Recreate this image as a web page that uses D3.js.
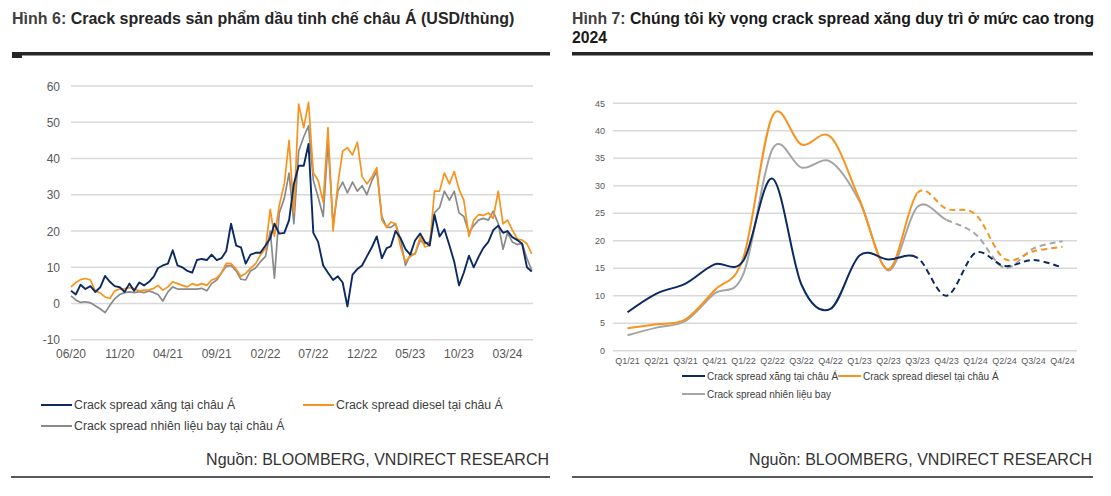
<!DOCTYPE html>
<html><head><meta charset="utf-8">
<script src="https://cdn.jsdelivr.net/npm/d3@7"></script>
<style>body{margin:0;background:#fff;} svg{display:block;font-family:"Liberation Sans",Arial,sans-serif;}</style>
</head><body><svg id="c" width="1111" height="496"></svg>
<script>
// ---------- Left chart data (semi-monthly readings) ----------
const dates = [
"2020-06-01","2020-06-16","2020-07-01","2020-07-16","2020-08-01","2020-08-16","2020-09-01","2020-09-16","2020-10-01","2020-10-16","2020-11-01","2020-11-16","2020-12-01","2020-12-16",
"2021-01-01","2021-01-16","2021-02-01","2021-02-16","2021-03-01","2021-03-16","2021-04-01","2021-04-16","2021-05-01","2021-05-16","2021-06-01","2021-06-16","2021-07-01","2021-07-16","2021-08-01","2021-08-16","2021-09-01","2021-09-16","2021-10-01","2021-10-16","2021-11-01","2021-11-16","2021-12-01","2021-12-16",
"2022-01-01","2022-01-16","2022-02-01","2022-02-16","2022-03-01","2022-03-16","2022-04-01","2022-04-16","2022-05-01","2022-05-16","2022-06-01","2022-06-16","2022-07-01","2022-07-16","2022-08-01","2022-08-16","2022-09-01","2022-09-16","2022-10-01","2022-10-16","2022-11-01","2022-11-16","2022-12-01","2022-12-16",
"2023-01-01","2023-01-16","2023-02-01","2023-02-16","2023-03-01","2023-03-16","2023-04-01","2023-04-16","2023-05-01","2023-05-16","2023-06-01","2023-06-16","2023-07-01","2023-07-16","2023-08-01","2023-08-16","2023-09-01","2023-09-16","2023-10-01","2023-10-16","2023-11-01","2023-11-16","2023-12-01","2023-12-16",
"2024-01-01","2024-01-16","2024-02-01","2024-02-16","2024-03-01","2024-03-16","2024-04-01","2024-04-16","2024-05-01","2024-05-16"];

const xangAsia = [3.5,2.5,5.2,4.0,4.8,3.2,4.5,7.6,6.0,4.8,4.5,3.2,5.5,3.5,
5.8,5.0,6.0,7.5,9.8,10.5,11.0,14.7,10.5,10.0,9.0,8.5,12.0,12.3,12.0,13.5,12.0,12.5,14.5,22.0,16.0,15.5,11.0,13.5,
14.0,14.0,16.0,18.0,22.0,19.3,19.5,23.0,33.0,38.0,38.0,44.0,19.5,17.0,10.5,8.5,6.5,7.5,5.8,-0.8,8.0,9.5,10.5,13.0,
15.6,18.5,12.5,15.3,15.8,20.0,18.0,15.0,13.5,17.4,19.3,17.0,16.0,24.5,18.5,20.5,16.0,11.5,5.0,8.5,13.2,10.0,12.8,15.3,
17.0,20.2,21.5,19.5,20.0,18.3,17.5,16.5,10.0,8.8];

const dieselAsia = [4.6,5.8,6.6,6.9,6.5,3.5,2.9,1.8,1.4,3.5,4.0,4.1,4.4,4.1,
3.5,3.7,3.8,4.2,5.0,3.7,4.6,6.0,5.5,5.0,4.6,5.5,5.0,5.5,5.0,6.5,7.0,8.5,11.1,11.0,9.5,7.5,8.3,9.7,
11.0,13.4,15.2,26.0,18.5,27.0,33.0,45.0,25.0,55.0,48.5,55.5,36.0,34.0,28.0,48.5,20.0,33.0,42.0,43.0,41.0,44.5,35.0,33.0,
35.0,37.5,23.0,21.0,22.5,22.0,15.5,11.5,13.0,13.7,18.3,15.6,16.0,31.0,31.0,36.0,33.0,36.4,31.5,28.5,18.5,23.0,24.5,24.3,
25.0,23.5,31.0,22.0,23.0,20.3,17.8,17.5,16.5,13.7];

const jetAsia = [2.1,1.0,0.3,0.5,0.2,-0.6,-1.5,-2.5,-0.5,1.3,2.5,3.0,3.2,3.0,
3.3,3.0,3.5,3.0,2.5,0.7,3.2,4.6,4.0,4.0,4.0,4.0,4.0,4.2,3.5,5.5,6.5,8.5,10.3,10.5,9.0,6.7,6.5,9.0,
9.8,11.5,13.0,20.0,7.0,25.0,29.0,36.0,22.0,42.0,46.0,49.0,34.0,29.4,24.0,44.6,22.0,31.0,33.5,30.5,33.5,31.0,32.5,30.0,
34.0,36.5,24.0,21.0,21.0,22.0,17.5,10.5,13.5,13.7,17.4,16.5,17.0,25.0,26.5,31.0,28.5,31.0,25.0,24.0,19.5,21.5,23.0,23.5,
23.0,25.5,22.0,15.0,19.5,17.0,16.3,16.5,12.5,9.1];

const leftTickDates = ["2020-06-01","2020-11-01","2021-04-01","2021-09-01","2022-02-01","2022-07-01","2022-12-01","2023-05-01","2023-10-01","2024-03-01"];
const leftTickLabels = ["06/20","11/20","04/21","09/21","02/22","07/22","12/22","05/23","10/23","03/24"];
const leftYTicks = [-10,0,10,20,30,40,50,60];

// ---------- Right chart data (quarterly) ----------
const quarters = ["Q1/21","Q2/21","Q3/21","Q4/21","Q1/22","Q2/22","Q3/22","Q4/22","Q1/23","Q2/23","Q3/23","Q4/23","Q1/24","Q2/24","Q3/24","Q4/24"];
const xangQ   = [7.0,10.4,12.2,15.7,16.4,31.3,12.0,7.6,17.3,16.6,16.9,10.0,17.8,15.4,16.5,15.1];
const dieselQ = [4.1,4.8,5.7,11.0,17.0,42.7,37.5,38.9,27.5,14.8,28.7,25.8,24.8,16.7,18.1,18.9];
const jetQ    = [2.8,4.2,5.4,10.4,14.0,36.7,33.3,34.4,27.2,14.6,26.2,23.8,21.2,15.1,18.6,19.9];
const rightYTicks = [0,5,10,15,20,25,30,35,40,45];

const C_NAVY = "#0b2a63", C_ORANGE = "#f7931e", C_GRAY = "#8a8a8a", C_GRAY2 = "#a5a5a5";
const GRID = "#d9d9d9", AXT = "#595959", TXT = "#404040";

const svg = d3.select("#c");
const parse = d3.utcParse("%Y-%m-%d");

// ---------- Titles ----------
const t1 = svg.append("text").attr("x",12).attr("y",24).attr("font-size",16).attr("font-weight","bold").attr("fill","#262626");
t1.append("tspan").attr("fill","#404040").text("Hình 6: ");
t1.append("tspan").text("Crack spreads sản phẩm dầu tinh chế châu Á (USD/thùng)");
const t2 = svg.append("text").attr("x",572).attr("y",24).attr("font-size",15.8).attr("font-weight","bold").attr("fill","#1a1a1a");
t2.append("tspan").attr("fill","#404040").text("Hình 7: ");
t2.append("tspan").text("Chúng tôi kỳ vọng crack spread xăng duy trì ở mức cao trong");
svg.append("text").attr("x",572).attr("y",43).attr("font-size",15.8).attr("font-weight","bold").attr("fill","#1a1a1a").text("2024");

svg.append("rect").attr("x",12).attr("y",52).attr("width",538).attr("height",3.5).attr("fill","#262626");
svg.append("rect").attr("x",12).attr("y",55).attr("width",10).attr("height",3).attr("fill","#262626");
svg.append("rect").attr("x",572).attr("y",52).attr("width",521).attr("height",3.5).attr("fill","#262626");

// ---------- Left chart ----------
const xL = d3.scaleUtc().domain([parse("2020-06-01"), parse("2024-05-20")]).range([71, 533]);
const yL = d3.scaleLinear().domain([-10, 60]).range([339.8, 86]);
const gL = svg.append("g");
gL.selectAll("line.g").data(leftYTicks).join("line")
  .attr("x1",71).attr("x2",533).attr("y1",d=>yL(d)).attr("y2",d=>yL(d))
  .attr("stroke",GRID).attr("stroke-width",1.5);
gL.selectAll("text.y").data(leftYTicks).join("text")
  .attr("x",60).attr("y",d=>yL(d)+4.5).attr("text-anchor","end")
  .attr("font-size",12).attr("fill",AXT).text(d=>d);
gL.selectAll("text.x").data(leftTickDates).join("text")
  .attr("x",d=>xL(parse(d))).attr("y",358).attr("text-anchor","middle")
  .attr("font-size",12).attr("fill",AXT).text((d,i)=>leftTickLabels[i]);

const lineL = (vals) => d3.line().x((d,i)=>xL(parse(dates[i]))).y(d=>yL(d))(vals);
[[jetAsia,C_GRAY,1.7],[dieselAsia,C_ORANGE,1.7],[xangAsia,C_NAVY,1.9]].forEach(([v,c,w])=>{
  gL.append("path").attr("d",lineL(v)).attr("fill","none").attr("stroke",c)
    .attr("stroke-width",w).attr("stroke-linejoin","round");
});

// left legend
const legL = [
  {x:41,y:405,c:C_NAVY,t:"Crack spread xăng tại châu Á"},
  {x:303,y:405,c:C_ORANGE,t:"Crack spread diesel tại châu Á"},
  {x:41,y:426,c:C_GRAY,t:"Crack spread nhiên liệu bay tại châu Á"}];
legL.forEach(d=>{
  svg.append("line").attr("x1",d.x).attr("x2",d.x+31).attr("y1",d.y).attr("y2",d.y).attr("stroke",d.c).attr("stroke-width",2);
  svg.append("text").attr("x",d.x+33).attr("y",d.y+4.2).attr("font-size",12.3).attr("fill",TXT).text(d.t);
});

// ---------- Right chart ----------
const xR = d3.scalePoint().domain(quarters).range([613, 1077]).padding(0.5);
const yR = d3.scaleLinear().domain([0, 45]).range([350.7, 103.3]);
const gR = svg.append("g");
gR.selectAll("line.g").data(rightYTicks).join("line")
  .attr("x1",613).attr("x2",1077).attr("y1",d=>yR(d)).attr("y2",d=>yR(d))
  .attr("stroke",GRID).attr("stroke-width",1.5);
gR.selectAll("text.y").data(rightYTicks).join("text")
  .attr("x",605).attr("y",d=>yR(d)+3.2).attr("text-anchor","end")
  .attr("font-size",9).attr("fill",AXT).text(d=>d);
gR.selectAll("text.x").data(quarters).join("text")
  .attr("x",d=>xR(d)).attr("y",364).attr("text-anchor","middle")
  .attr("font-size",9).attr("fill",AXT).text(d=>d);

const defs = svg.append("defs");
const lineR = d3.line().x((d,i)=>xR(quarters[i])).y(d=>yR(d)).curve(d3.curveCardinal.tension(0));
const seriesR = [
  {v:jetQ, c:C_GRAY2, split:11, id:"j"},
  {v:dieselQ, c:C_ORANGE, split:10, id:"d"},
  {v:xangQ, c:C_NAVY, split:10, id:"x"}];
seriesR.forEach(s=>{
  const sx = xR(quarters[s.split]);
  defs.append("clipPath").attr("id","s"+s.id).append("rect").attr("x",590).attr("y",80).attr("width",sx-590).attr("height",300);
  defs.append("clipPath").attr("id","q"+s.id).append("rect").attr("x",sx).attr("y",80).attr("width",1100-sx).attr("height",300);
  const dPath = lineR(s.v);
  gR.append("path").attr("d",dPath).attr("fill","none").attr("stroke",s.c).attr("stroke-width",2)
    .attr("clip-path","url(#s"+s.id+")");
  gR.append("path").attr("d",dPath).attr("fill","none").attr("stroke",s.c).attr("stroke-width",2)
    .attr("stroke-dasharray","6,4").attr("clip-path","url(#q"+s.id+")");
});

// right legend
const legR = [
  {x:682,y:376,c:C_NAVY,t:"Crack spread xăng tại châu Á"},
  {x:838,y:376,c:C_ORANGE,t:"Crack spread diesel tại châu Á"},
  {x:682,y:394,c:C_GRAY2,t:"Crack spread nhiên liệu bay"}];
legR.forEach(d=>{
  svg.append("line").attr("x1",d.x).attr("x2",d.x+23).attr("y1",d.y).attr("y2",d.y).attr("stroke",d.c).attr("stroke-width",2);
  svg.append("text").attr("x",d.x+25).attr("y",d.y+3.5).attr("font-size",10).attr("fill",TXT).text(d.t);
});

// ---------- Sources ----------
[[549,11],[1092,572]].forEach(([xr,xl])=>{
  svg.append("text").attr("x",xr).attr("y",465).attr("text-anchor","end").attr("font-size",16)
    .attr("fill","#333").text("Nguồn: BLOOMBERG, VNDIRECT RESEARCH");
  svg.append("line").attr("x1",xl).attr("x2",xr+1).attr("y1",477).attr("y2",477).attr("stroke","#595959").attr("stroke-width",2);
});
</script></body></html>
